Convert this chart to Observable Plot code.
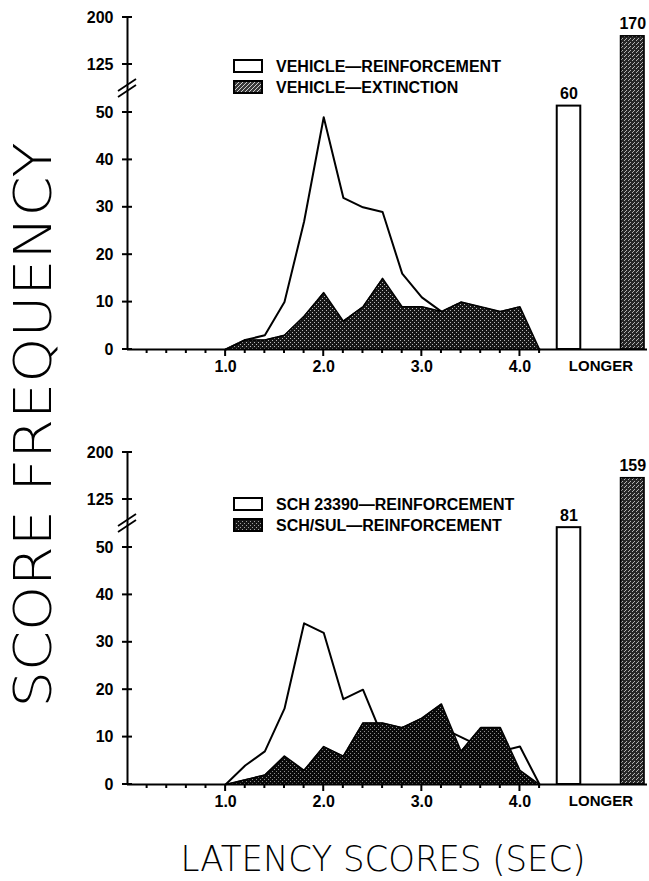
<!DOCTYPE html>
<html><head><meta charset="utf-8">
<script src="https://cdn.jsdelivr.net/npm/d3@7"></script>
<script src="https://cdn.jsdelivr.net/npm/@observablehq/plot@0.6"></script>
<style>
body{margin:0;background:#fff;}
#wrap{position:relative;width:649px;height:881px;overflow:hidden;background:#fff;font-family:"Liberation Sans",Arial,sans-serif;}
#wrap > svg{position:absolute;left:0;}
</style></head><body><div id="wrap"></div>
<script>
// ---------- data ----------
const latency = [1.0, 1.2, 1.4, 1.6, 1.8, 2.0, 2.2, 2.4, 2.6, 2.8, 3.0, 3.2, 3.4, 3.6, 3.8, 4.0, 4.2];
const vehicleReinforcement = [0, 2, 3, 10, 27, 49, 32, 30, 29, 16, 11, 8, 6, 4, 3, 2, 0];
const vehicleExtinction    = [0, 2, 2, 3, 7, 12, 6, 9, 15, 9, 9, 8, 10, 9, 8, 9, 0];
const schReinforcement     = [0, 4, 7, 16, 34, 32, 18, 20, 10, 12, 12, 12, 10, 8, 7, 8, 0];
const schSulReinforcement  = [0, 1, 2, 6, 3, 8, 6, 13, 13, 12, 14, 17, 7, 12, 12, 3, 0];
const topLonger = [60, 170];
const bottomLonger = [81, 159];
const topLegend = ["VEHICLE\u2014REINFORCEMENT", "VEHICLE\u2014EXTINCTION"];
const bottomLegend = ["SCH 23390\u2014REINFORCEMENT", "SCH/SUL\u2014REINFORCEMENT"];
const xTickValues = [1, 2, 3, 4];
const yTickValues = [0, 10, 20, 30, 40, 50, 125, 200];
const longerLabel = "LONGER";
const yTitle = "SCORE FREQUENCY";
const xTitle = "LATENCY SCORES (SEC)";

// ---------- layout ----------
const W = 649;
const wrap = document.getElementById("wrap");

// pattern defs
const defs = d3.select(wrap).append("svg").attr("width", 0).attr("height", 0).style("position", "absolute");
const dd = defs.append("defs");
function stipple(id, bg, dot, pts) {
  const p = dd.append("pattern").attr("id", id).attr("width", 4).attr("height", 4).attr("patternUnits", "userSpaceOnUse");
  p.append("rect").attr("width", 4).attr("height", 4).attr("fill", bg);
  pts.forEach(([x, y]) => p.append("rect").attr("x", x).attr("y", y).attr("width", 1).attr("height", 1).attr("fill", dot));
}
stipple("stipTop", "#161616", "#b8b8b8", [[0, 0], [2, 2]]);
stipple("stipBot", "#0a0a0a", "#8c8c8c", [[0, 0], [2, 2]]);
stipple("stipBar", "#262626", "#b4b4b4", [[0, 0], [2, 2], [1, 3]]);
stipple("stipSwTop", "#3a3a3a", "#d0d0d0", [[0, 0], [2, 2], [1, 3], [3, 1]]);
stipple("stipSwBot", "#161616", "#a0a0a0", [[0, 0], [2, 2]]);

const slotX = [4.5, 5.15];   // bar slot centres on the x scale
const halfW = 0.12;
const FONT = '"Liberation Sans", Arial, sans-serif';

function panel({top, white, dark, longer, legend, darkFill, swatchFill, legendY}) {
  const mt = 17, frameH = 332, mb = 50;
  const H = mt + frameH + mb;
  const whiteData = latency.map((x, i) => ({x, y: white[i]}));
  const darkData = latency.map((x, i) => ({x, y: dark[i]}));
  const bars = longer.map((v, i) => ({value: v, x: slotX[i], kind: i}));
  const minor = d3.range(1, 22).map(k => k / 5);
  const longerPos = (slotX[0] + slotX[1]) / 2;
  const plot = Plot.plot({
    width: W, height: H,
    marginLeft: 127, marginRight: 2, marginTop: mt, marginBottom: mb,
    style: {fontFamily: FONT, fontSize: "16px", fontWeight: "bold", background: "transparent", overflow: "visible", color: "#000"},
    x: {domain: [0, 5.3]},
    y: {type: "linear", domain: [0, 50, 125, 200], range: [mt + frameH, mt + frameH - 237, mt + 47, mt]},
    marks: [
      Plot.areaY(whiteData, {x: "x", y: "y", fill: "white"}),
      Plot.lineY(whiteData, {x: "x", y: "y", stroke: "black", strokeWidth: 2}),
      Plot.areaY(darkData, {x: "x", y: "y", fill: darkFill}),
      Plot.lineY(darkData, {x: "x", y: "y", stroke: "black", strokeWidth: 1.5}),
      Plot.rectY(bars.filter(d => d.kind === 0), {x1: d => d.x - halfW, x2: d => d.x + halfW, y1: 0, y2: "value", fill: "white", stroke: "black", strokeWidth: 2}),
      Plot.rectY(bars.filter(d => d.kind === 1), {x1: d => d.x - halfW, x2: d => d.x + halfW, y1: 0, y2: "value", fill: "url(#stipBar)", stroke: "black", strokeWidth: 1.5}),
      Plot.text(bars, {x: "x", y: "value", text: d => String(d.value), dy: -7, lineAnchor: "bottom", fontSize: 16, fontWeight: "bold"}),
      Plot.ruleY([0], {strokeWidth: 2}),
      Plot.ruleX([0], {strokeWidth: 2}),
      Plot.axisY({ticks: yTickValues, tickSize: 0, tickPadding: 14, label: null, fontSize: 16, fontWeight: "bold"}),
      Plot.axisX({ticks: xTickValues, tickSize: 0, tickPadding: 11, tickFormat: d3.format(".1f"), label: null, fontSize: 16, fontWeight: "bold"}),
      Plot.axisX({ticks: [longerPos], tickSize: 0, tickPadding: 11, tickFormat: () => longerLabel, label: null, fontSize: 15, fontWeight: "bold"})
    ]
  });
  plot.style.top = top + "px";
  wrap.appendChild(plot);
  const svg = d3.select(plot);
  const ys = plot.scale("y"), xs = plot.scale("x");
  const bx = xs.apply(0), by0 = ys.apply(0);
  const tk = svg.append("g").attr("stroke", "black").attr("stroke-width", 2);
  // y ticks crossing the axis
  yTickValues.forEach(v => {
    const y = ys.apply(v);
    tk.append("line").attr("x1", bx - 5).attr("x2", bx + 5).attr("y1", y).attr("y2", y);
  });
  // x ticks: minor every 0.2, major at whole seconds
  minor.forEach(v => {
    const x = xs.apply(v);
    const major = xTickValues.some(t => Math.abs(t - v) < 1e-6);
    tk.append("line").attr("x1", x).attr("x2", x).attr("y1", by0).attr("y2", by0 + (major ? 7 : 4));
  });
  // axis break marks between 50 and 125
  const by = ys.apply(87.5);
  [-3, 3].forEach(o => {
    tk.append("line").attr("x1", bx - 9).attr("y1", by + o + 6).attr("x2", bx + 9).attr("y2", by + o - 6).attr("stroke-width", 1.8);
  });
  // legend
  const lg = svg.append("g").attr("font-family", FONT).attr("font-weight", "bold").attr("font-size", 16).attr("text-anchor", "start");
  legend.forEach((t, i) => {
    const y0 = legendY + i * 21;
    lg.append("rect").attr("x", 234).attr("y", y0 - 12).attr("width", 28).attr("height", 12)
      .attr("fill", i === 0 ? "white" : swatchFill).attr("stroke", "black").attr("stroke-width", 2);
    lg.append("text").attr("x", 276).attr("y", y0).attr("text-anchor", "start").text(t);
  });
}

panel({top: 0, white: vehicleReinforcement, dark: vehicleExtinction, longer: topLonger, legend: topLegend, darkFill: "url(#stipTop)", swatchFill: "url(#stipSwTop)", legendY: 72});
panel({top: 435, white: schReinforcement, dark: schSulReinforcement, longer: bottomLonger, legend: bottomLegend, darkFill: "url(#stipBot)", swatchFill: "url(#stipSwBot)", legendY: 75});

// titles
const TF = "'DejaVu Sans Light', 'Lato Light', 'Roboto Light', 'Open Sans Light', Lato, Roboto, sans-serif";
const ov = d3.select(wrap).append("svg").attr("width", W).attr("height", 881).style("top", "0px").style("pointer-events", "none");
ov.append("text").attr("transform", "translate(51,425) rotate(-90)").attr("text-anchor", "middle")
  .attr("font-family", TF).attr("font-weight", 200).attr("font-size", 52)
  .attr("textLength", 565).attr("lengthAdjust", "spacingAndGlyphs").text(yTitle);
ov.append("text").attr("x", 383).attr("y", 871).attr("text-anchor", "middle")
  .attr("font-family", TF).attr("font-weight", 200).attr("font-size", 35)
  .attr("textLength", 405).attr("lengthAdjust", "spacingAndGlyphs").text(xTitle);
</script></body></html>
